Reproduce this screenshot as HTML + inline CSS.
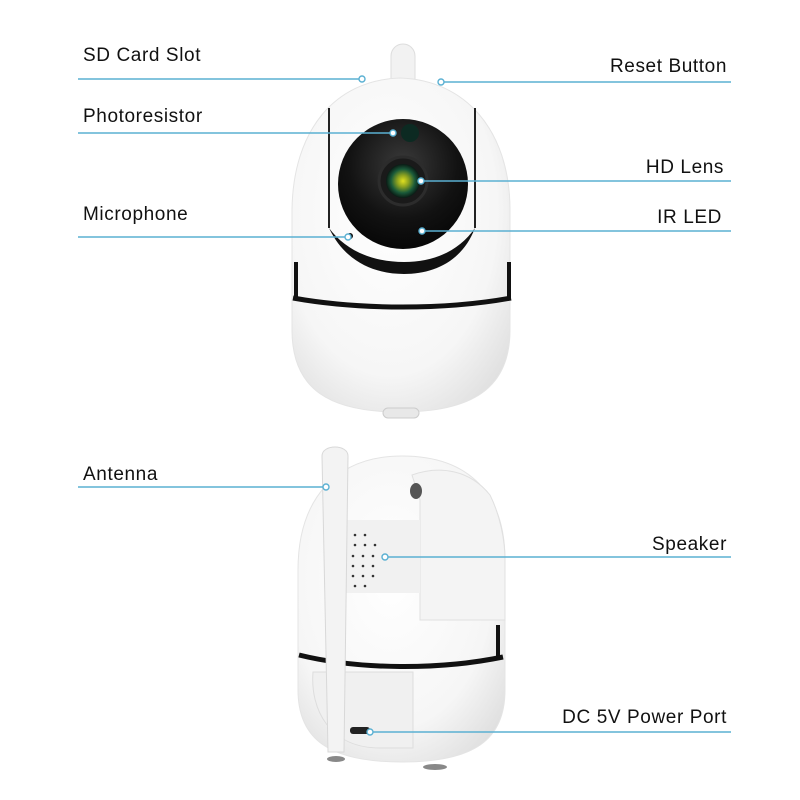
<!DOCTYPE html>
<html><head><meta charset="utf-8"><style>
html,body{margin:0;padding:0;background:#fff;}
svg{display:block;}
text{font-family:"Liberation Sans",sans-serif;font-size:19px;fill:#111;letter-spacing:0.6px;}
</style></head><body>
<svg width="800" height="800" viewBox="0 0 800 800" xmlns="http://www.w3.org/2000/svg">
<defs>
<radialGradient id="bd" cx="0.45" cy="0.4" r="0.7"><stop offset="0" stop-color="#ffffff"/><stop offset="0.7" stop-color="#f6f6f6"/><stop offset="1" stop-color="#e0e0e0"/></radialGradient>
<radialGradient id="face" cx="0.5" cy="0.35" r="0.7"><stop offset="0" stop-color="#3a3a3a"/><stop offset="0.6" stop-color="#121212"/><stop offset="1" stop-color="#050505"/></radialGradient>
<radialGradient id="lens" cx="0.5" cy="0.5" r="0.5"><stop offset="0" stop-color="#e0e020"/><stop offset="0.35" stop-color="#8aa020"/><stop offset="0.7" stop-color="#1a5a3a"/><stop offset="1" stop-color="#0a1a14"/></radialGradient>
</defs>

<!-- TOP CAMERA -->
<rect x="391" y="44" width="24" height="50" rx="12" fill="#f2f2f2" stroke="#ddd"/>
<path d="M400,78 C335,80 293,130 292,210 L292,330 C292,390 330,412 400,412 C470,412 510,390 510,330 L510,210 C510,130 465,80 400,78 Z" fill="url(#bd)" stroke="#e4e4e4"/>
<rect x="383" y="408" width="36" height="10" rx="5" fill="#e8e8e8" stroke="#ccc"/>
<path d="M329,108 L329,228" stroke="#222" stroke-width="2"/>
<path d="M475,108 L475,228" stroke="#222" stroke-width="2"/>
<path d="M329,228 C345,262 375,274 404,274 C433,274 462,262 475,228 C460,250 435,262 404,262 C372,262 345,250 329,228 Z" fill="#111"/>
<path d="M294,262 L294,300 L298,300 L298,262 Z" fill="#111"/>
<path d="M507,262 L507,300 L511,300 L511,262 Z" fill="#111"/>
<path d="M293,298 C360,310 445,310 511,298" stroke="#111" stroke-width="5" fill="none"/>
<circle cx="403" cy="184" r="65" fill="url(#face)"/>
<circle cx="410" cy="133" r="9" fill="#0c2a22"/>
<circle cx="403" cy="181" r="24" fill="#1a1a1a" stroke="#2c2c2c" stroke-width="3"/>
<circle cx="403" cy="181" r="17" fill="url(#lens)"/>
<circle cx="350" cy="236" r="3" fill="#111"/>

<!-- BOTTOM CAMERA -->
<path d="M402,456 C335,456 298,500 298,570 L298,690 C298,740 330,762 402,762 C474,762 505,740 505,690 L505,560 C505,495 470,456 402,456 Z" fill="url(#bd)" stroke="#e4e4e4"/>
<path d="M412,475 C440,465 470,470 490,495 C500,515 505,540 505,560 L505,620 L420,620 L420,500 Z" fill="#f4f4f4" stroke="#e0e0e0"/>
<path d="M340,520 L420,520 L420,593 L340,593 Z" fill="#f1f1f1"/>
<ellipse cx="416" cy="491" rx="6" ry="8" fill="#555"/>
<g fill="#333">
<circle cx="355" cy="535" r="1.3"/><circle cx="365" cy="535" r="1.3"/>
<circle cx="355" cy="545" r="1.3"/><circle cx="365" cy="545" r="1.3"/><circle cx="375" cy="545" r="1.3"/>
<circle cx="353" cy="556" r="1.3"/><circle cx="363" cy="556" r="1.3"/><circle cx="373" cy="556" r="1.3"/><circle cx="383" cy="556" r="1.3"/>
<circle cx="353" cy="566" r="1.3"/><circle cx="363" cy="566" r="1.3"/><circle cx="373" cy="566" r="1.3"/>
<circle cx="353" cy="576" r="1.3"/><circle cx="363" cy="576" r="1.3"/><circle cx="373" cy="576" r="1.3"/>
<circle cx="355" cy="586" r="1.3"/><circle cx="365" cy="586" r="1.3"/>
</g>
<path d="M496,625 L496,660 L500,660 L500,625 Z" fill="#111"/>
<path d="M299,655 C360,670 440,670 503,657" stroke="#111" stroke-width="5" fill="none"/>
<path d="M313,672 C310,710 330,748 380,748 L413,748 L413,672 Z" fill="#f0f0f0" stroke="#ddd"/>
<rect x="350" y="727" width="20" height="7" rx="3" fill="#222"/>
<ellipse cx="336" cy="759" rx="9" ry="3" fill="#888"/>
<ellipse cx="435" cy="767" rx="12" ry="3" fill="#888"/>
<path d="M322,456 C322,444 348,444 348,456 L344,752 L328,752 Z" fill="#f3f3f3" stroke="#d8d8d8"/>

<!-- LEADER LINES -->
<g stroke="#5ab0d2" stroke-width="1.4" fill="#fff">
<line x1="78" y1="79" x2="359" y2="79"/><circle cx="362" cy="79" r="3"/>
<line x1="444" y1="82" x2="731" y2="82"/><circle cx="441" cy="82" r="3"/>
<line x1="78" y1="133" x2="390" y2="133"/><circle cx="393" cy="133" r="3"/>
<line x1="424" y1="181" x2="731" y2="181"/><circle cx="421" cy="181" r="3"/>
<line x1="78" y1="237" x2="345" y2="237"/><circle cx="348" cy="237" r="3"/>
<line x1="425" y1="231" x2="731" y2="231"/><circle cx="422" cy="231" r="3"/>
<line x1="78" y1="487" x2="323" y2="487"/><circle cx="326" cy="487" r="3"/>
<line x1="388" y1="557" x2="731" y2="557"/><circle cx="385" cy="557" r="3"/>
<line x1="373" y1="732" x2="731" y2="732"/><circle cx="370" cy="732" r="3"/>
</g>

<!-- LABELS -->
<text x="83" y="61">SD Card Slot</text>
<text x="83" y="122">Photoresistor</text>
<text x="83" y="220">Microphone</text>
<text x="83" y="480">Antenna</text>
<text x="727" y="72" text-anchor="end">Reset Button</text>
<text x="724" y="173" text-anchor="end">HD Lens</text>
<text x="722" y="223" text-anchor="end">IR LED</text>
<text x="727" y="550" text-anchor="end">Speaker</text>
<text x="727" y="723" text-anchor="end">DC 5V Power Port</text>
</svg>
</body></html>
